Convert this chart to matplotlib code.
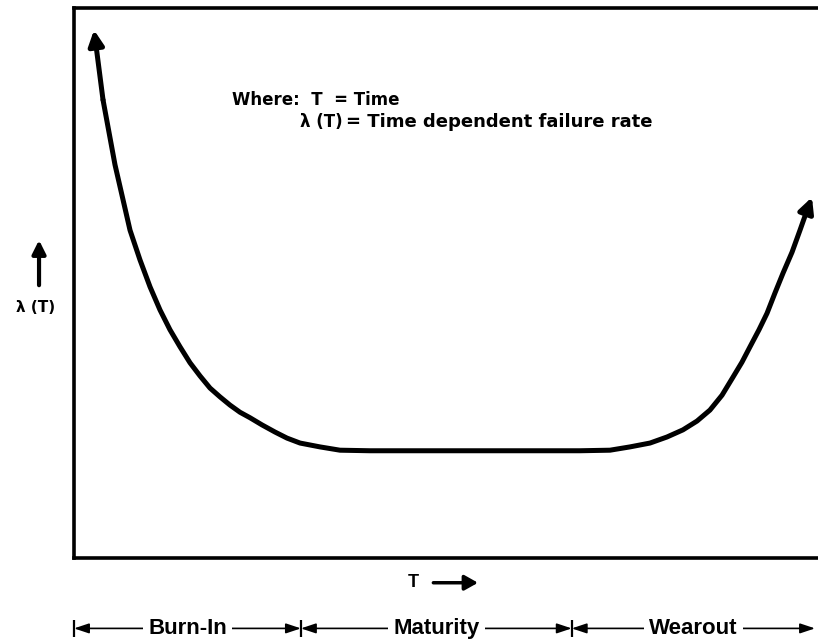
import numpy as np
import matplotlib
matplotlib.use('Agg')
import matplotlib.pyplot as plt

# bathtub curve (T in % of span, rate in % of height)
T = [2.69, 3.90, 5.51, 7.53, 8.87, 10.22, 11.56, 12.90, 14.25, 15.59, 16.94,
     18.28, 19.62, 20.97, 22.31, 23.66, 25.27, 27.02, 28.63, 30.38, 33.06,
     35.75, 39.78, 68.01, 72.04, 74.73, 77.42, 79.70, 81.85, 83.74, 85.48,
     87.10, 88.58, 89.78, 90.86, 92.07, 93.15, 94.22, 95.30, 96.51, 97.58,
     98.39, 99.19]
rate = [96.0, 83.3, 71.5, 59.6, 54.2, 49.3, 45.1, 41.5, 38.4, 35.5, 33.1,
        30.9, 29.3, 27.8, 26.5, 25.5, 24.2, 22.9, 21.8, 20.9, 20.2,
        19.6, 19.5, 19.5, 19.6, 20.2, 20.9, 22.0, 23.3, 24.9, 26.9,
        29.6, 32.9, 35.6, 38.4, 41.5, 44.5, 48.2, 51.8, 55.6, 59.6,
        62.7, 65.6]

phases = ['Burn-In', 'Maturity', 'Wearout']
bounds = [0, 30.5, 66.9, 99.6]

plt.rcParams['font.family'] = ['DejaVu Sans']
narrow = ['Liberation Sans Narrow', 'Liberation Sans', 'DejaVu Sans']

fig = plt.figure(figsize=(8.18, 6.43), dpi=100, facecolor='white')
ax = fig.add_axes([74/818, 85/643, 744/818, 550/643])
ax.set_xlim(0, 100)
ax.set_ylim(0, 100)
ax.set_xticks([])
ax.set_yticks([])
for s in ['left', 'top', 'bottom']:
    ax.spines[s].set_linewidth(2.6)
ax.spines['right'].set_visible(False)

# curve, with arrow heads on both ends
ax.plot(T[1:-1], rate[1:-1], color='black', lw=3.6, solid_capstyle='round',
        solid_joinstyle='round')
head = dict(arrowstyle='-|>,head_length=0.9,head_width=0.45', lw=3.6,
            color='black', shrinkA=0, shrinkB=0)
ax.annotate('', xy=(T[0], rate[0]), xytext=(T[1], rate[1]), arrowprops=head)
ax.annotate('', xy=(T[-1], rate[-1]), xytext=(T[-2], rate[-2]), arrowprops=head)

# legend text
ax.text(21.2, 83.2, 'Where:  T  = Time', fontsize=12, fontweight='bold',
        va='center', ha='left')
ax.text(30.4, 79.2, 'λ (T)', fontsize=12, fontweight='bold',
        va='center', ha='left')
ax.text(36.6, 79.2, '= Time dependent failure rate', fontsize=13,
        fontweight='bold', va='center', ha='left')

# y label with up arrow
ax.annotate('', xy=(-4.7, 57.8), xytext=(-4.7, 49.6), annotation_clip=False,
            arrowprops=dict(arrowstyle='-|>,head_length=0.8,head_width=0.4',
                            lw=3, color='black', shrinkA=0, shrinkB=0))
ax.text(-5.2, 45.5, 'λ (T)', fontsize=11, fontweight='bold', ha='center',
        va='center', clip_on=False)

# x label
ax.text(45.6, -4.5, 'T', fontsize=13, fontweight='bold', ha='center',
        va='center', clip_on=False, family=narrow)
ax.annotate('', xy=(54.3, -4.5), xytext=(48.3, -4.5), annotation_clip=False,
            arrowprops=dict(arrowstyle='-|>,head_length=0.8,head_width=0.45',
                            lw=2.5, color='black', shrinkA=0, shrinkB=0))

# life phases below the axis
yb = -12.8
for i, name in enumerate(phases):
    a, b = bounds[i], bounds[i + 1]
    ax.annotate('', xy=(b, yb), xytext=(a, yb), annotation_clip=False,
                arrowprops=dict(arrowstyle='<|-|>,head_length=0.9,head_width=0.3',
                                lw=1.2, color='black', shrinkA=0, shrinkB=0))
    ax.text((a + b) / 2, yb, name, fontsize=16, fontweight='bold',
            ha='center', va='center', clip_on=False, family=narrow,
            bbox=dict(facecolor='white', edgecolor='none', pad=4))
ax.vlines(bounds[:-1], yb - 1.6, yb + 1.6, color='black', lw=1.6,
          clip_on=False)

fig.savefig('out.png', dpi=100, facecolor='white')
